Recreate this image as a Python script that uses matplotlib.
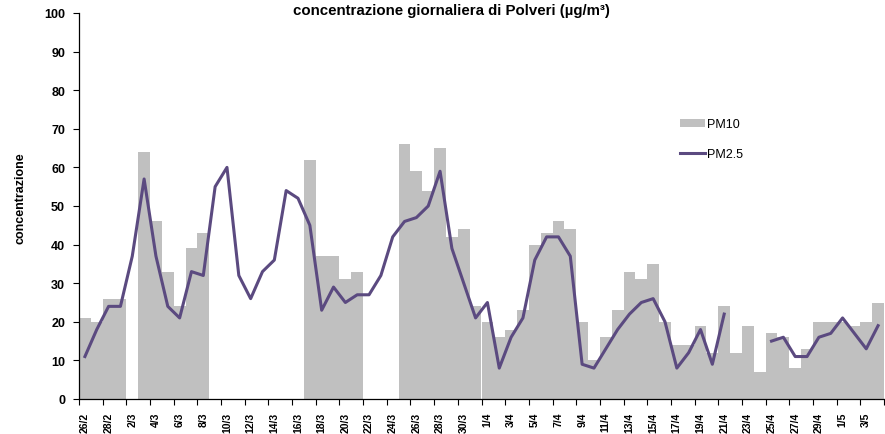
import numpy as np
import matplotlib
matplotlib.use('Agg')
import matplotlib.pyplot as plt
from matplotlib.patches import Patch
from matplotlib.lines import Line2D

plt.rcParams['font.family'] = ['Liberation Sans', 'DejaVu Sans']

nan = np.nan
# giorni dal 26/2 al 4/5
dates = ['26/2', '27/2', '28/2', '1/3', '2/3', '3/3', '4/3', '5/3', '6/3', '7/3',
         '8/3', '9/3', '10/3', '11/3', '12/3', '13/3', '14/3', '15/3', '16/3', '17/3',
         '18/3', '19/3', '20/3', '21/3', '22/3', '23/3', '24/3', '25/3', '26/3', '27/3',
         '28/3', '29/3', '30/3', '31/3', '1/4', '2/4', '3/4', '4/4', '5/4', '6/4',
         '7/4', '8/4', '9/4', '10/4', '11/4', '12/4', '13/4', '14/4', '15/4', '16/4',
         '17/4', '18/4', '19/4', '20/4', '21/4', '22/4', '23/4', '24/4', '25/4', '26/4',
         '27/4', '28/4', '29/4', '30/4', '1/5', '2/5', '3/5', '4/5']

pm10 = [21, 20, 26, 26, nan, 64, 46, 33, 24, 39,
        43, nan, nan, nan, nan, nan, nan, nan, nan, 62,
        37, 37, 31, 33, nan, nan, nan, 66, 59, 54,
        65, 42, 44, 24, 20, 16, 18, 23, 40, 43,
        46, 44, 20, 10, 16, 23, 33, 31, 35, 20,
        14, 14, 19, 12, 24, 12, 19, 7, 17, 16,
        8, 13, 20, 20, 20, 19, 20, 25]

pm25 = [11, 18, 24, 24, 37, 57, 37, 24, 21, 33,
        32, 55, 60, 32, 26, 33, 36, 54, 52, 45,
        23, 29, 25, 27, 27, 32, 42, 46, 47, 50,
        59, 39, 30, 21, 25, 8, 16, 21, 36, 42,
        42, 37, 9, 8, 13, 18, 22, 25, 26, 20,
        8, 12, 18, 9, 22, nan, nan, nan, 15, 16,
        11, 11, 16, 17, 21, 17, 13, 19]

fig = plt.figure(figsize=(8.85, 4.35), dpi=100)
ax = fig.add_axes([79 / 885, 1 - 400 / 435, 805 / 885, 386 / 435])

x = np.arange(len(dates))
ax.bar(x, pm10, width=1.0, align='edge', color='#C0C0C0', linewidth=0)
ax.plot(x + 0.5, pm25, color='#5B4A80', linewidth=2.2)

ax.set_xlim(0, len(dates))
ax.set_ylim(0, 100)
ax.set_yticks(range(0, 101, 10))
ax.set_yticklabels([str(v) for v in range(0, 101, 10)], fontsize=9, fontweight='bold')

ax.set_xticks(np.arange(0, len(dates) + 1, 2))
ax.set_xticklabels([])
ax.set_xticks(x[::2] + 0.5, minor=True)
ax.set_xticklabels(dates[::2], minor=True, rotation=90, fontsize=7.5, fontweight='bold')
ax.tick_params(axis='x', which='minor', length=0, pad=9)
ax.tick_params(axis='x', which='major', length=4, width=0.8, direction='out')
ax.tick_params(axis='y', length=4, width=0.8, direction='out', pad=6)

for s in ['top', 'right']:
    ax.spines[s].set_visible(False)
ax.spines['left'].set_linewidth(0.9)
ax.spines['bottom'].set_linewidth(0.9)

ax.set_ylabel('concentrazione', fontsize=9, fontweight='bold')
ax.yaxis.set_label_coords(-0.0655, 0.523)
fig.text(451 / 885, 1 - 11 / 435, 'concentrazione giornaliera di Polveri (µg/m³)',
         ha='center', va='center', fontsize=10.8, fontweight='bold')

handles = [Patch(facecolor='#C0C0C0', edgecolor='none'),
           Line2D([0], [0], color='#5B4A80', linewidth=2.2)]
fig.legend(handles, ['PM10', 'PM2.5'], loc='upper left',
           bbox_to_anchor=(669 / 885, 1 - 108 / 435), frameon=False,
           fontsize=9, handlelength=2.0, handleheight=0.55, handletextpad=0.15,
           labelspacing=1.4)

fig.savefig('out.png', dpi=100)
